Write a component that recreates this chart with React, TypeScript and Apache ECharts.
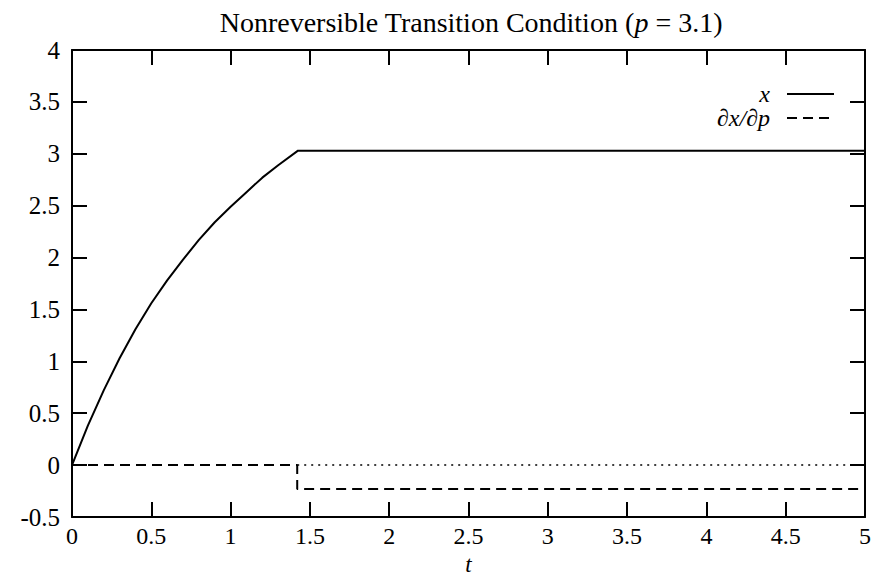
import React, { useEffect, useRef } from "react";
import * as echarts from "echarts";

const tValues = [0, 0.1, 0.2, 0.3, 0.4, 0.5, 0.6, 0.7, 0.8, 0.9, 1.0, 1.1, 1.2, 1.3, 1.425, 5];
const xValues = [0, 0.38, 0.72, 1.03, 1.31, 1.56, 1.78, 1.98, 2.17, 2.34, 2.49, 2.63, 2.77, 2.89, 3.03, 3.03];
const dxdpT = [0, 1.42, 1.42, 5];
const dxdpValues = [0, 0, -0.23, -0.23];
const xTicks = [0, 0.5, 1, 1.5, 2, 2.5, 3, 3.5, 4, 4.5, 5];
const yTicks = [-0.5, 0, 0.5, 1, 1.5, 2, 2.5, 3, 3.5, 4];
const zeroLineStart = 1.42;

const FONT = "Liberation Serif";

export default function App() {
  const ref = useRef<HTMLDivElement>(null);
  useEffect(() => {
    if (!ref.current) return;
    const chart = echarts.init(ref.current, null, { renderer: "svg" });
    const axisCommon = {
      type: "value",
      axisLine: { show: true, onZero: false, lineStyle: { color: "#000", width: 2 } },
      axisTick: { show: true, inside: true, length: 15, lineStyle: { color: "#000", width: 2 } },
      splitLine: { show: false },
    };
    const xMin = xTicks[0], xMax = xTicks[xTicks.length - 1];
    const yMin = yTicks[0], yMax = yTicks[yTicks.length - 1];
    const labelStyle = { fontFamily: FONT, fontSize: 25, color: "#000", fontWeight: "normal" };
    chart.setOption({
      animation: false,
      backgroundColor: "#fff",
      title: {
        text: "{n|Nonreversible Transition Condition (}{i|p}{n| = 3.1)}",
        left: 466,
        textAlign: "center",
        top: 3,
        textStyle: {
          fontWeight: "normal",
          rich: {
            n: { fontFamily: FONT, fontSize: 28, color: "#000", fontWeight: "normal" },
            i: { fontFamily: FONT, fontSize: 28, fontStyle: "italic", color: "#000", fontWeight: "normal" },
          },
        },
      },
      grid: { left: 72, right: 7, top: 50, bottom: 63, containLabel: false, outerBoundsMode: "none" },
      legend: {
        right: 32,
        top: 77,
        orient: "vertical",
        align: "right",
        itemWidth: 47,
        itemHeight: 14,
        itemGap: 0,
        padding: [5, 5, 5, 5],
        itemStyle: { opacity: 0 },
        textStyle: {
          fontFamily: FONT,
          fontSize: 24,
          lineHeight: 23,
          fontStyle: "italic",
          color: "#000",
          padding: [0, 12, 0, 0],
        },
        data: ["x", "∂x/∂p"],
      },
      xAxis: [
        {
          ...axisCommon,
          min: xMin,
          max: xMax,
          interval: 0.5,
          position: "bottom",
          name: "t",
          nameLocation: "middle",
          nameGap: 39,
          nameMoveOverlap: false,
          nameTextStyle: { ...labelStyle, fontSize: 23, lineHeight: 16, fontStyle: "italic" },
          axisLabel: { ...labelStyle, fontSize: 24, lineHeight: 20, margin: 9 },
        },
        {
          ...axisCommon,
          min: xMin,
          max: xMax,
          interval: 0.5,
          position: "top",
          axisLabel: { show: false },
        },
      ],
      yAxis: [
        {
          ...axisCommon,
          min: yMin,
          max: yMax,
          interval: 0.5,
          position: "left",
          axisLabel: { ...labelStyle, margin: 12 },
        },
        {
          ...axisCommon,
          min: yMin,
          max: yMax,
          interval: 0.5,
          position: "right",
          axisLabel: { show: false },
        },
      ],
      series: [
        {
          name: "x",
          type: "line",
          symbol: "none",
          data: tValues.map((t, i) => [t, xValues[i]]),
          lineStyle: { color: "#000", width: 2 },
          itemStyle: { color: "#000" },
          z: 3,
        },
        {
          name: "∂x/∂p",
          type: "line",
          symbol: "none",
          data: dxdpT.map((t, i) => [t, dxdpValues[i]]),
          lineStyle: { color: "#000", width: 2, type: [10, 6] },
          itemStyle: { color: "#000" },
          z: 3,
          markLine: {
            silent: true,
            symbol: "none",
            label: { show: false },
            lineStyle: { color: "#000", width: 1.5, type: [2, 5] },
            data: [[{ coord: [zeroLineStart, 0] }, { coord: [xMax, 0] }]],
          },
        },
      ],
    });
    return () => chart.dispose();
  }, []);
  return <div ref={ref} style={{ width: 872, height: 580, position: "absolute", left: 0, top: 0 }} />;
}
